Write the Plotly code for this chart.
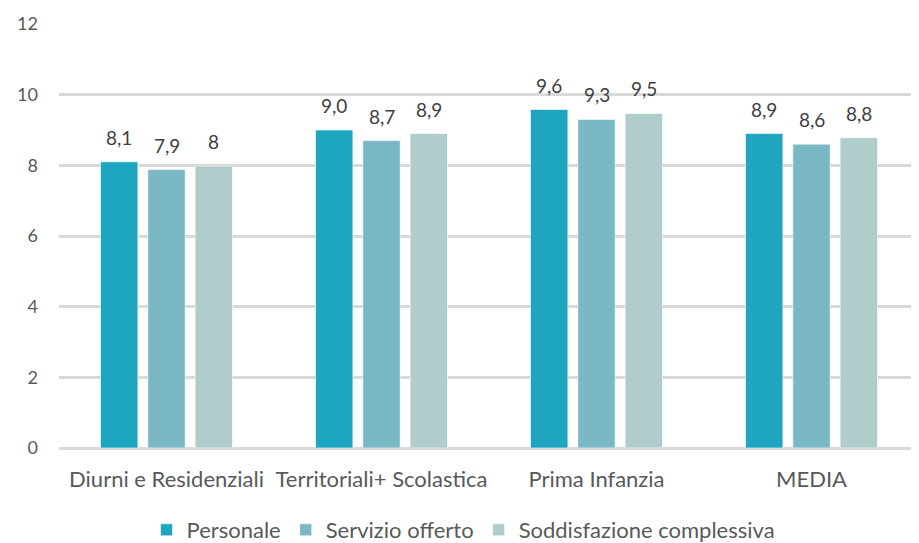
import plotly.graph_objects as go

categories = ["Diurni e Residenziali", "Territoriali+ Scolastica", "Prima Infanzia", "MEDIA"]
personale = [8.1, 9.0, 9.58, 8.9]
servizio = [7.88, 8.7, 9.3, 8.6]
soddisfazione = [7.98, 8.9, 9.47, 8.78]
personale_txt = ["8,1", "9,0", "9,6", "8,9"]
servizio_txt = ["7,9", "8,7", "9,3", "8,6"]
soddisfazione_txt = ["8", "8,9", "9,5", "8,8"]

series = [
    ("Personale", personale, personale_txt, "#1EA6C0"),
    ("Servizio offerto", servizio, servizio_txt, "#7AB8C4"),
    ("Soddisfazione complessiva", soddisfazione, soddisfazione_txt, "#B0CCCB"),
]

FONT = "Lato"
BARGAP = 0.34
PLOT_W = 860
# the page adds an 8px body margin, so the figure is drawn 8px smaller
W, H = 911, 535

fig = go.Figure()
slot = PLOT_W / len(categories) * (1 - BARGAP) / len(series)
for i, (name, vals, txt, color) in enumerate(series):
    fig.add_trace(
        go.Bar(
            name=name,
            x=categories,
            y=vals,
            marker=dict(color=color, line=dict(color="rgba(255,255,255,0.6)", width=1)),
        )
    )
    for cat, v, t in zip(categories, vals, txt):
        fig.add_annotation(
            x=cat,
            y=v,
            text=t,
            showarrow=False,
            xshift=(i - 1) * slot,
            yshift=11,
            yanchor="bottom",
            font=dict(size=19, color="#404040", family=FONT),
        )

fig.update_layout(
    width=W,
    height=H,
    margin=dict(l=51, r=0, t=16, b=95),
    plot_bgcolor="white",
    paper_bgcolor="white",
    barmode="group",
    bargap=BARGAP,
    bargroupgap=0.21,
    font=dict(family=FONT, size=18, color="#595959"),
    legend=dict(
        orientation="h",
        x=0.5,
        xanchor="center",
        xref="container",
        y=1 - 522 / H,
        yanchor="middle",
        yref="container",
        font=dict(size=22, color="#595959"),
        itemwidth=30,
        tracegroupgap=0,
    ),
)
fig.update_yaxes(
    range=[0, 12],
    dtick=2,
    showgrid=True,
    gridcolor="#D9D9D9",
    gridwidth=3,
    zeroline=True,
    zerolinecolor="#D9D9D9",
    zerolinewidth=3,
    showline=False,
    ticklabelstandoff=20,
    tickfont=dict(size=18, color="#595959"),
)
fig.update_xaxes(
    showgrid=False,
    showline=False,
    ticks="",
    tickfont=dict(size=22, color="#595959"),
    ticklabelstandoff=16,
)

fig.write_html("out.html")
